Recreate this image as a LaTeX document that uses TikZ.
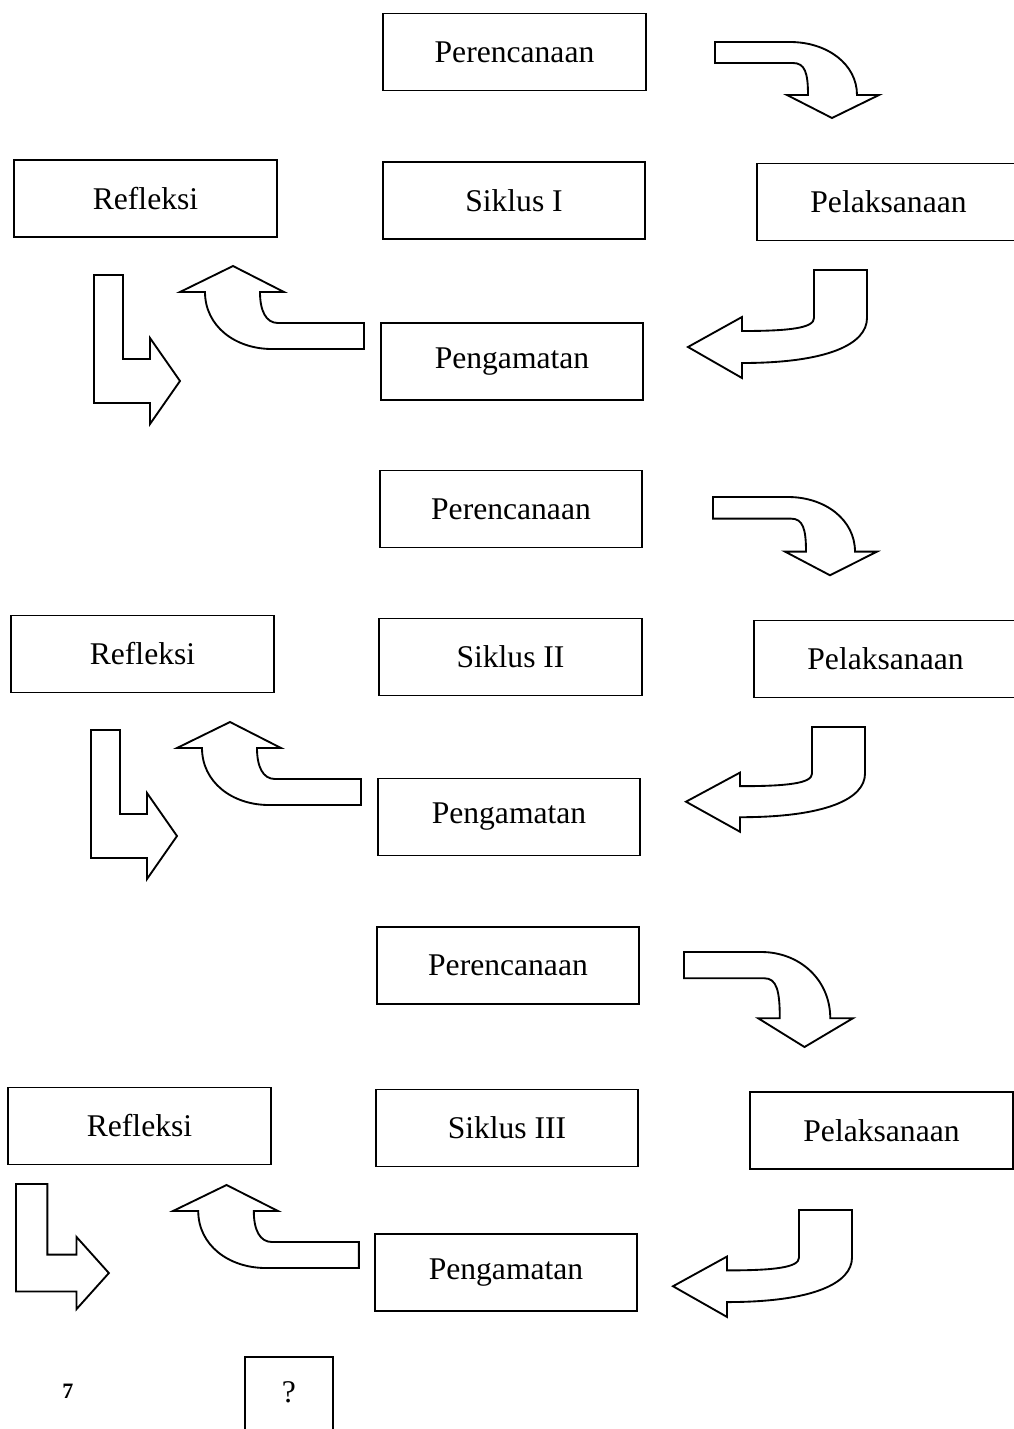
\documentclass[tikz,border=0pt]{standalone}
\usepackage{fontspec}
\setmainfont{Liberation Serif}
\usepackage{tikz}
\tikzset{
  tahap/.style={draw, line width=1.4pt, minimum width=197pt, minimum height=57.75pt,
    inner sep=0pt, font=\fontsize{23.7}{28}\selectfont},
  blok/.style={draw, line width=1.4pt, line join=miter}
}
\newcommand{\curvedown}[4]{%
  \begin{scope}[shift={(#1,#2)},xscale=#3,yscale=#4]
    \draw[blok] (0,0) -- (75,0) .. controls (112,0) and (142,22) .. (142,53) -- (164,53)
      -- (117,76) -- (72,53) -- (93,53) .. controls (93,31) and (90,21) .. (78,21) -- (0,21) -- cycle;
  \end{scope}}
\newcommand{\curveleft}[4]{%
  \begin{scope}[shift={(#1,#2)},xscale=#3,yscale=#4]
    \draw[blok] (126,0) -- (179,0) -- (179,48) .. controls (179,74) and (140,93) .. (54,93)
      -- (54,108) -- (0,77) -- (54,47) -- (54,61) .. controls (102,61) and (126,58) .. (126,48) -- cycle;
  \end{scope}}
\newcommand{\curveup}[4]{%
  \begin{scope}[shift={(#1,#2)},xscale=#3,yscale=#4]
    \draw[blok] (184,57) -- (98,57) .. controls (86,57) and (80,45) .. (80,26) -- (104,26)
      -- (53,0) -- (0,26) -- (25,26) .. controls (25,60) and (55,83) .. (92,83) -- (184,83) -- cycle;
  \end{scope}}
\newcommand{\elbowright}[4]{%
  \begin{scope}[shift={(#1,#2)},xscale=#3,yscale=#4]
    \draw[blok] (0,0) -- (29,0) -- (29,84) -- (56,84) -- (56,63) -- (86,106) -- (56,149)
      -- (56,128) -- (0,128) -- cycle;
  \end{scope}}
\begin{document}
\begin{tikzpicture}[x=0.75pt,y=-0.75pt]
  \useasboundingbox (0,0) rectangle (1014,1429);
  \clip (0,0) rectangle (1014,1429);

  % siklus I
  \node[tahap] (plan1) at (514.5,52) {Perencanaan};
  \node[tahap] (siklus1) at (514,200.5) {Siklus I};
  \node[tahap] (refl1) at (145.5,198.5) {Refleksi};
  \node[tahap] (pel1) at (888.5,202) {Pelaksanaan};
  \node[tahap] (amat1) at (512,361.5) {Pengamatan};
  \curvedown{715}{42}{1}{1}
  \curveleft{688}{270}{1}{1}
  \curveup{180}{266}{1}{1}
  \elbowright{94}{275}{1}{1}

  % siklus II
  \node[tahap] (plan2) at (511,509) {Perencanaan};
  \node[tahap] (siklus2) at (510.5,657) {Siklus II};
  \node[tahap] (refl2) at (142.5,654) {Refleksi};
  \node[tahap] (pel2) at (885.5,659) {Pelaksanaan};
  \node[tahap] (amat2) at (509,817) {Pengamatan};
  \curvedown{713}{497}{1}{1.03}
  \curveleft{686}{727}{1}{0.97}
  \curveup{177}{722}{1}{1}
  \elbowright{91}{730}{1}{1}

  % siklus III
  \node[tahap] (plan3) at (508,965.5) {Perencanaan};
  \node[tahap] (siklus3) at (507,1128) {Siklus III};
  \node[tahap] (refl3) at (139.5,1126) {Refleksi};
  \node[tahap] (pel3) at (881.5,1130.5) {Pelaksanaan};
  \node[tahap] (amat3) at (506,1272.5) {Pengamatan};
  \curvedown{684}{952}{1.03}{1.25}
  \curveleft{673}{1210}{1}{0.99}
  \curveup{173}{1185}{1.01}{1}
  \elbowright{16}{1184}{1.08}{0.84}

  \node[font=\fontsize{16.5}{19}\selectfont\bfseries] (hal) at (68,1391) {7};
  \node[draw, line width=1.4pt, minimum width=66pt, minimum height=66pt, inner sep=0pt,
    font=\fontsize{23.7}{28}\selectfont] (tanya) at (289,1401) {};
  \node[font=\fontsize{23.7}{28}\selectfont] (tanyateks) at (289,1392) {?};
\end{tikzpicture}
\end{document}
